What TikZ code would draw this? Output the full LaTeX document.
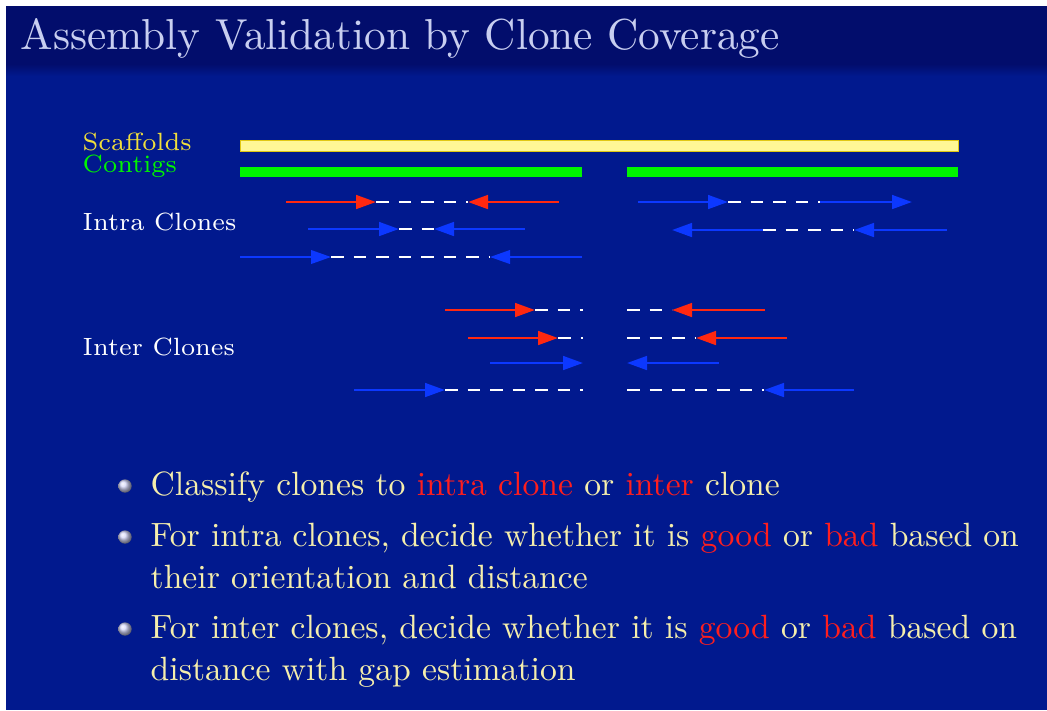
\documentclass[tikz,border=0pt]{standalone}
\usetikzlibrary{arrows.meta}

\definecolor{titlebar}{RGB}{2,13,108}
\definecolor{slidebg}{RGB}{1,25,142}
\definecolor{titletext}{RGB}{200,206,240}
\definecolor{bodytext}{RGB}{245,238,172}
\definecolor{hired}{RGB}{255,30,30}
\definecolor{clonered}{RGB}{255,40,16}
\definecolor{cloneblue}{RGB}{12,56,255}
\definecolor{scafyellow}{RGB}{255,247,150}
\definecolor{scafedge}{RGB}{225,200,20}
\definecolor{scaflabel}{RGB}{240,222,60}
\definecolor{contiggreen}{RGB}{0,245,0}
\definecolor{ballcol}{RGB}{212,214,248}

\begin{document}
\begin{tikzpicture}[x=0.3pt,y=-0.3pt,
  txt/.style={inner sep=0pt, anchor=base west, font=\fontsize{10}{12}\selectfont},
  bodyline/.style={txt, scale=1.01, text=bodytext},
  lbl/.style={inner sep=0pt, anchor=base west, font=\fontsize{7}{8}\selectfont, scale=1.07},
  bulletball/.style={circle, inner sep=0pt, minimum size=4pt, ball color=ballcol},
  redarr/.style={draw=clonered, line width=0.8pt, -{Triangle[length=6pt,width=4.1pt]}},
  bluearr/.style={draw=cloneblue, line width=0.8pt, -{Triangle[length=6pt,width=4.1pt]}},
  thinblue/.style={draw=cloneblue, line width=0.5pt, -{Triangle[length=6pt,width=4.1pt]}},
  gap/.style={draw=white, line width=0.75pt, dash pattern=on 3.75pt off 3pt},
]
\useasboundingbox (0,0) rectangle (1047,710);
\fill[white] (0,0) rectangle (1047,710);

% slide background with title band
\fill[titlebar] (6,6) rectangle (1047,64);
\shade[top color=titlebar, bottom color=slidebg] (6,64) rectangle (1047,76);
\fill[slidebg] (6,76) rectangle (1047,710);

\node[txt, scale=1.30, text=titletext] (title) at (20,49) {Assembly Validation by Clone Coverage};

% row labels
\node[lbl, text=scaflabel] (lscaf) at (82,150) {Scaffolds};
\node[lbl, text=contiggreen] (lcont) at (82,172) {Contigs};
\node[lbl, text=white] (lintra) at (82,230) {Intra Clones};
\node[lbl, text=white] (linter) at (82,355) {Inter Clones};

% scaffold and contigs
\filldraw[fill=scafyellow, draw=scafedge, line width=0.3pt] (240,140) rectangle (958,151);
\fill[contiggreen] (240,167) rectangle (582,177);
\fill[contiggreen] (627,167) rectangle (958,177);

% clone end points
\foreach \n/\x/\y in {
  a1/286/202, a2/376/202, a3/468/202, a4/559/202,
  b1/308/229, b2/399/229, b3/434/229, b4/525/229,
  c1/240/257, c2/331/257, c3/490/257, c4/582/257,
  d1/638/202, d2/728/202, d3/820/202, d4/912/202,
  e1/672/230, e2/763/230, e3/854/230, e4/947/230,
  f1/445/310, f2/535/310, f3/583/310, f4/627/310, f5/672/310, f6/765/310,
  g1/468/338, g2/558/338, g3/583/338, g4/627/338, g5/696/338, g6/787/338,
  h1/490/363, h2/583/363, h3/627/363, h4/719/363,
  k1/354/390, k2/445/390, k3/583/390, k4/627/390, k5/764/390, k6/854/390}
  {\coordinate (\n) at (\x,\y);}

% intra clones, left contig
\draw[gap] (a2) -- (a3);
\draw[redarr] (a1) -- (a2);
\draw[redarr] (a4) -- (a3);
\draw[gap] (b2) -- (b3);
\draw[bluearr] (b1) -- (b2);
\draw[bluearr] (b4) -- (b3);
\draw[gap] (c2) -- (c3);
\draw[thinblue] (c1) -- (c2);
\draw[thinblue] (c4) -- (c3);

% intra clones, right contig
\draw[gap] (d2) -- (d3);
\draw[bluearr] (d1) -- (d2);
\draw[bluearr] (d3) -- (d4);
\draw[gap] (e2) -- (e3);
\draw[bluearr] (e2) -- (e1);
\draw[bluearr] (e4) -- (e3);

% inter clones
\draw[gap] (f2) -- (f3);
\draw[gap] (f4) -- (f5);
\draw[redarr] (f1) -- (f2);
\draw[redarr] (f6) -- (f5);
\draw[gap] (g2) -- (g3);
\draw[gap] (g4) -- (g5);
\draw[redarr] (g1) -- (g2);
\draw[redarr] (g6) -- (g5);
\draw[bluearr] (h1) -- (h2);
\draw[bluearr] (h4) -- (h3);
\draw[gap] (k2) -- (k3);
\draw[gap] (k4) -- (k5);
\draw[bluearr] (k1) -- (k2);
\draw[bluearr] (k6) -- (k5);

% bullet list
\node[bulletball] (bul1) at (125,486) {};
\node[bulletball] (bul2) at (125,537) {};
\node[bulletball] (bul3) at (125,629) {};
\node[bodyline] (it1) at (150,495) {Classify clones to \textcolor{hired}{intra clone} or \textcolor{hired}{inter} clone};
\node[bodyline] (it2a) at (150,546) {For intra clones, decide whether it is \textcolor{hired}{good} or \textcolor{hired}{bad} based on};
\node[bodyline] (it2b) at (150,588) {their orientation and distance};
\node[bodyline] (it3a) at (150,638) {For inter clones, decide whether it is \textcolor{hired}{good} or \textcolor{hired}{bad} based on};
\node[bodyline] (it3b) at (150,680) {distance with gap estimation};
\end{tikzpicture}
\end{document}
